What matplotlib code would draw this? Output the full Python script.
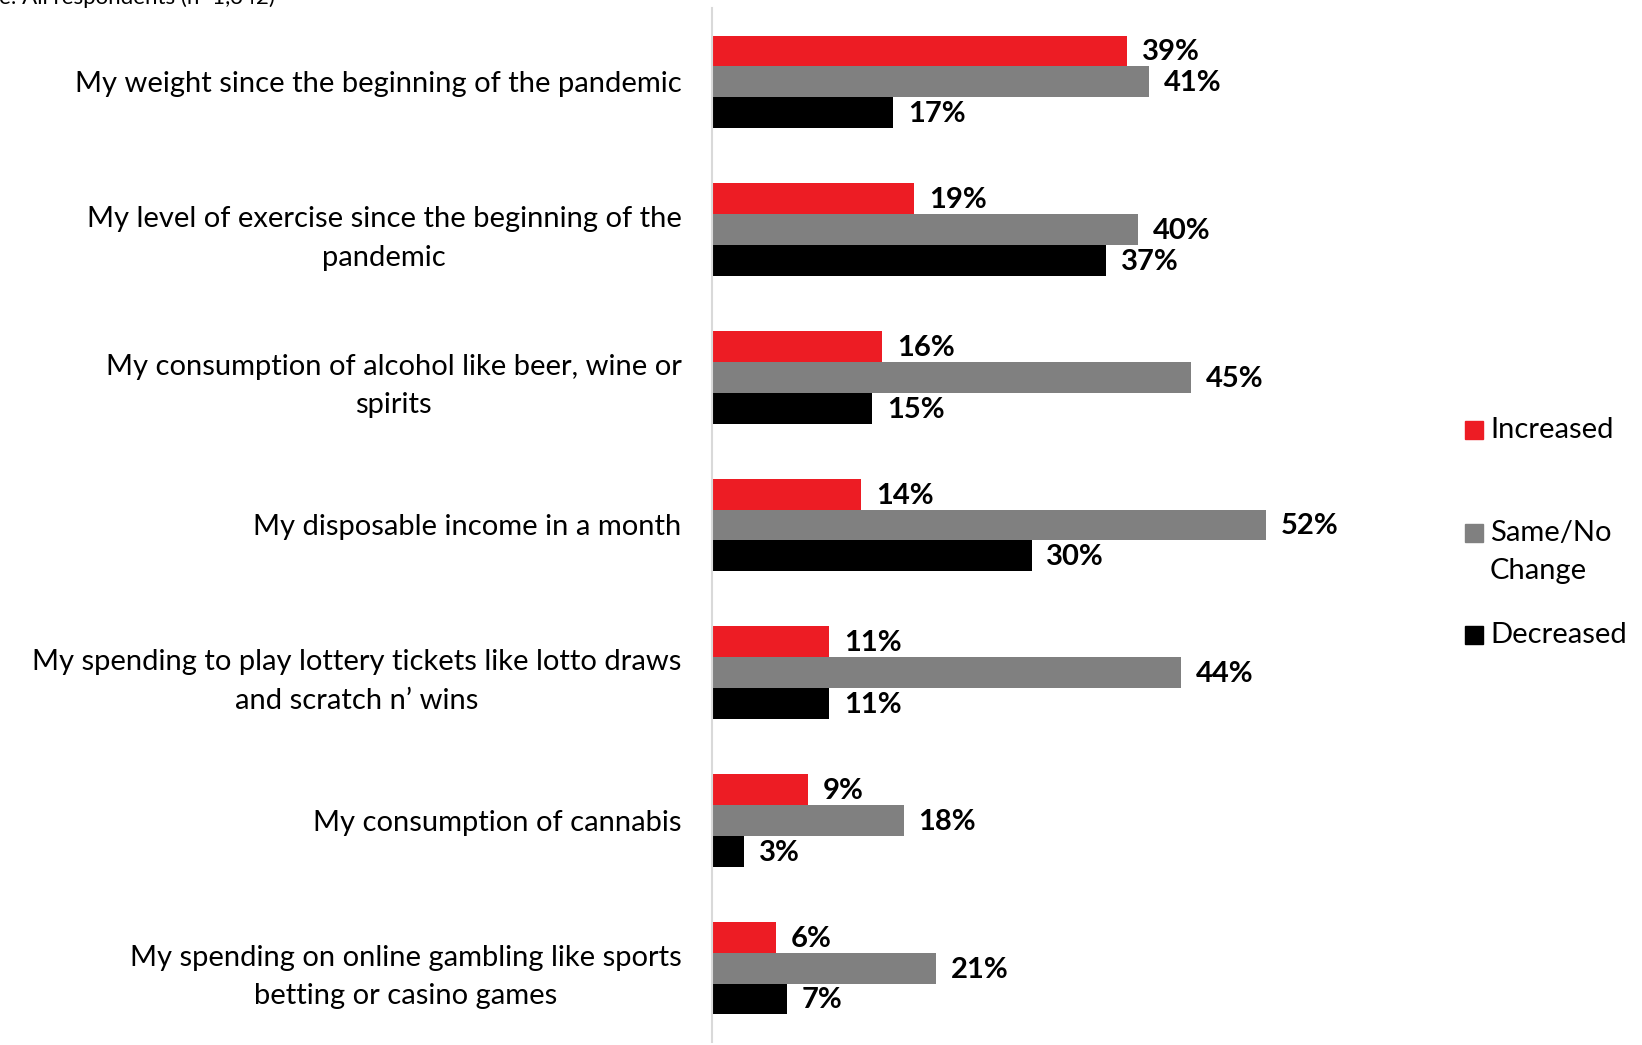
# Change in habits since the start of the pandemic: clustered horizontal bars
import matplotlib as mpl
mpl.use('Agg')
import matplotlib.pyplot as plt
from matplotlib.patches import Rectangle
import numpy as np

plt.rcParams['font.family'] = ['Lato', 'DejaVu Sans']

categories = ['My weight since the beginning of the pandemic',
              'My level of exercise since the beginning of the\npandemic',
              'My consumption of alcohol like beer, wine or\nspirits',
              'My disposable income in a month',
              'My spending to play lottery tickets like lotto draws\nand scratch n\u2019 wins',
              'My consumption of cannabis',
              'My spending on online gambling like sports\nbetting or casino games']
increased = [39, 19, 16, 14, 11, 9, 6]
same = [41, 40, 45, 52, 44, 18, 21]
decreased = [17, 37, 15, 30, 11, 3, 7]

series = [('Increased', increased, '#ED1C24'),
          ('Same/No\nChange', same, '#808080'),
          ('Decreased', decreased, '#000000')]

fs = 21
fig = plt.figure(figsize=(16.42, 10.45), dpi=100)
ax = fig.add_axes([712/1642, 3/1045, 639/1642, 1034/1045])

h = 0.209
y = np.arange(len(categories))
for k, (name, vals, col) in enumerate(series):
    yy = y + (k - 1) * h
    ax.barh(yy, vals, height=h, color=col, edgecolor='none')
    for yi, v in zip(yy, vals):
        ax.text(v + 1.4, yi + 0.01, f'{v}%', va='center', ha='left',
                fontsize=fs, fontweight='bold', color='black')

ax.set_xlim(0, 60)
ax.set_ylim(len(categories) - 0.5, -0.5)
ax.set_yticks(y)
ax.set_yticklabels(categories, fontsize=fs, multialignment='center', linespacing=1.6)
ax.tick_params(axis='y', length=0, pad=22)
ax.set_xticks([])
for s in ['top', 'right', 'bottom']:
    ax.spines[s].set_visible(False)
ax.spines['left'].set_color('#d9d9d9')
ax.spines['left'].set_linewidth(1.5)

# legend drawn by hand so the entries keep the uneven spacing
sq_y = [430, 533, 635]
txt_y = [430, 552, 635]
for (name, vals, col), py, ty in zip(series, sq_y, txt_y):
    fig.patches.append(Rectangle((1465/1642, 1 - (py + 9)/1045), 18/1642, 18/1045,
                                 transform=fig.transFigure, color=col))
    fig.text(1490/1642, 1 - ty/1045, name, fontsize=fs, va='center',
             ha='left', linespacing=1.6)

fig.text(275/1642, 1 - 4/1045, 'Base: All respondents (n=1,342)', fontsize=16, va='baseline', ha='right')

plt.savefig('out.png', dpi=100)
plt.close()
